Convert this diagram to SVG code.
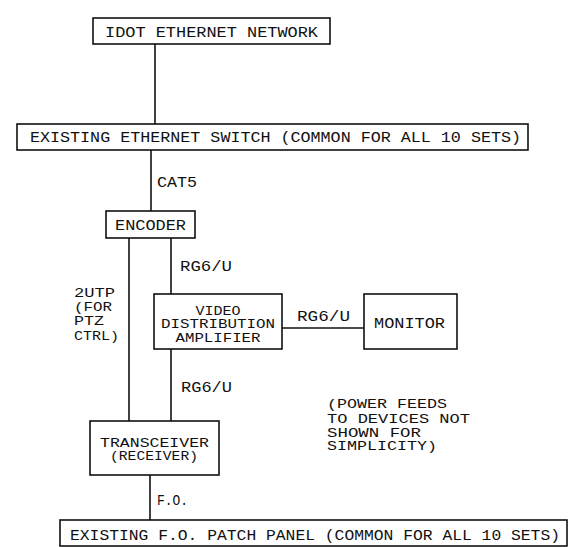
<svg xmlns="http://www.w3.org/2000/svg" width="572" height="547" viewBox="0 0 572 547">
<style>
.box{fill:#fff;stroke:#111;stroke-width:1.6}
.ln{stroke:#111;stroke-width:1.6;fill:none}
text{font-family:"Liberation Mono","DejaVu Sans Mono",monospace;font-size:15px;fill:#111}
.s{font-size:13.5px}
.c{text-anchor:middle}
</style>
<rect width="572" height="547" fill="#fff"/>
<g id="connectors">
<line class="ln" x1="155" y1="44" x2="155" y2="124"/>
<line class="ln" x1="151" y1="150" x2="151" y2="211"/>
<line class="ln" x1="129" y1="238" x2="129" y2="421"/>
<line class="ln" x1="171" y1="238" x2="171" y2="294"/>
<line class="ln" x1="282" y1="328" x2="364" y2="328"/>
<line class="ln" x1="171" y1="349" x2="171" y2="421"/>
<line class="ln" x1="150" y1="475" x2="150" y2="520"/>
<text x="157" y="187" textLength="40" lengthAdjust="spacingAndGlyphs">CAT5</text>
<text x="180" y="271" textLength="52" lengthAdjust="spacingAndGlyphs">RG6/U</text>
<text x="297" y="321" textLength="53" lengthAdjust="spacingAndGlyphs">RG6/U</text>
<text x="181" y="392" textLength="51" lengthAdjust="spacingAndGlyphs">RG6/U</text>
<text class="s" x="74" y="297" textLength="41" lengthAdjust="spacingAndGlyphs">2UTP</text>
<text class="s" x="74" y="311" textLength="38" lengthAdjust="spacingAndGlyphs">(FOR</text>
<text class="s" x="74" y="325" textLength="30" lengthAdjust="spacingAndGlyphs">PTZ</text>
<text class="s" x="74" y="340" textLength="45" lengthAdjust="spacingAndGlyphs">CTRL)</text>
<text x="157" y="505" textLength="31" lengthAdjust="spacingAndGlyphs">F.O.</text>
</g>
<g id="idot">
<rect class="box" x="93" y="18" width="237" height="26"/>
<text x="105" y="37" textLength="213" lengthAdjust="spacingAndGlyphs">IDOT ETHERNET NETWORK</text>
</g>
<g id="switch">
<rect class="box" x="17" y="124" width="511" height="26"/>
<text x="30" y="142" textLength="491" lengthAdjust="spacingAndGlyphs">EXISTING ETHERNET SWITCH (COMMON FOR ALL 10 SETS)</text>
</g>
<g id="encoder">
<rect class="box" x="106" y="211" width="89" height="27"/>
<text x="115" y="230" textLength="71" lengthAdjust="spacingAndGlyphs">ENCODER</text>
</g>
<g id="vda">
<rect class="box" x="154" y="294" width="128" height="55"/>
<text class="c s" x="218" y="315" textLength="45" lengthAdjust="spacingAndGlyphs">VIDEO</text>
<text class="c s" x="218" y="328" textLength="114" lengthAdjust="spacingAndGlyphs">DISTRIBUTION</text>
<text class="c s" x="218" y="342" textLength="85" lengthAdjust="spacingAndGlyphs">AMPLIFIER</text>
</g>
<g id="monitor">
<rect class="box" x="364" y="294" width="93" height="55"/>
<text x="374" y="328" textLength="71" lengthAdjust="spacingAndGlyphs">MONITOR</text>
</g>
<g id="note">
<text class="s" x="327" y="408" textLength="120" lengthAdjust="spacingAndGlyphs">(POWER FEEDS</text>
<text class="s" x="327" y="423" textLength="143" lengthAdjust="spacingAndGlyphs">TO DEVICES NOT</text>
<text class="s" x="327" y="437" textLength="94" lengthAdjust="spacingAndGlyphs">SHOWN FOR</text>
<text class="s" x="327" y="450" textLength="110" lengthAdjust="spacingAndGlyphs">SIMPLICITY)</text>
</g>
<g id="transceiver">
<rect class="box" x="90" y="421" width="129" height="54"/>
<text class="s" x="100" y="447" textLength="109" lengthAdjust="spacingAndGlyphs">TRANSCEIVER</text>
<text class="s" x="110" y="460" textLength="88" lengthAdjust="spacingAndGlyphs">(RECEIVER)</text>
</g>
<g id="patch">
<rect class="box" x="60" y="520" width="507" height="26"/>
<text x="70" y="540" textLength="490" lengthAdjust="spacingAndGlyphs">EXISTING F.O. PATCH PANEL (COMMON FOR ALL 10 SETS)</text>
</g>
</svg>
